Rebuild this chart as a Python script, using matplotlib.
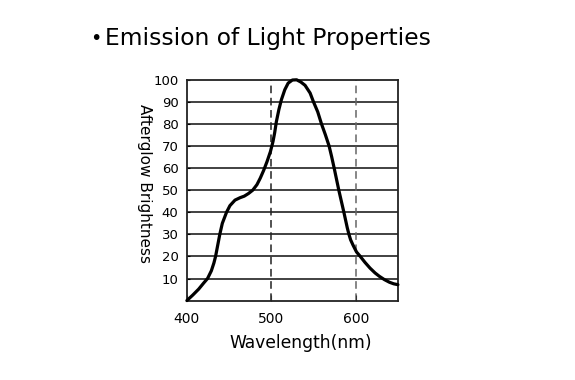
import matplotlib
matplotlib.use("Agg")
import matplotlib.pyplot as plt

plt.rcParams['font.family'] = ['DejaVu Sans']

# emission curve
wavelength = [400, 407, 414, 420, 424.5, 429, 432, 434, 436.5, 439, 442, 447, 451, 457, 463,
              468, 473, 478, 483, 487, 491, 495, 499, 502, 504, 506, 509, 512, 516, 520,
              525, 530, 535, 540, 546, 550, 555, 559.5, 564, 568.5, 571.5, 574.5, 580, 586,
              590, 592, 594, 597, 601, 605, 611, 617, 623, 628, 634, 640, 645, 650]
brightness = [0, 2.5, 5.2, 8, 10, 13.5, 17, 20, 25, 30, 35, 40, 43, 45.5, 46.6,
              47.3, 48.5, 50, 52.5, 55.5, 59, 63, 67.5, 72, 76, 81, 86.5, 91, 95.5, 98.5,
              99.9, 100, 99, 97.5, 94, 90, 85.5, 80, 75.2, 70, 65.2, 60, 50, 40,
              33, 30, 27.5, 25, 22, 20.2, 17.3, 14.7, 12.5, 11, 9.5, 8.3, 7.6, 7.2]

y_grid = [10, 20, 30, 40, 50, 60, 70, 80, 90]
y_ticks = [10, 20, 30, 40, 50, 60, 70, 80, 90, 100]
x_ticks = [400, 500, 600]
dashed_x = [500, 600]
dashed_colors = ['#222222', '#666666']

fig = plt.figure(figsize=(5.75, 3.8), dpi=100)
ax = fig.add_axes([0.325, 0.209, 0.367, 0.581])

for g in y_grid:
    ax.axhline(g, color='#333333', lw=1.3, zorder=1)
for xv, c in zip(dashed_x, dashed_colors):
    ax.axvline(xv, color=c, lw=1.1, ls=(0, (5, 3)), zorder=1)

ax.plot(wavelength, brightness, color='black', lw=2.3, zorder=3,
        clip_on=False, solid_capstyle='round', solid_joinstyle='round')

ax.set_xlim(400, 650)
ax.set_ylim(0, 100)
ax.set_xticks(x_ticks)
ax.set_yticks(y_ticks)
ax.tick_params(axis='x', direction='in', length=4, labelsize=10, pad=8, color='#333333')
ax.tick_params(axis='y', direction='in', length=2, labelsize=9.5, pad=6)
for s in ax.spines.values():
    s.set_linewidth(1.3)
    s.set_color('#222222')

ax.set_xlabel('Wavelength(nm)', fontsize=12.3, va='center')
ax.xaxis.set_label_coords(0.54, -0.19)
ax.set_ylabel('Afterglow Brightness', fontsize=11, rotation=270, va='center')
ax.yaxis.set_label_coords(-0.2, 0.53)

fig.text(0.157, 0.9, '•', fontsize=14, ha='left', va='center')
fig.text(0.182, 0.9, 'Emission of Light Properties', fontsize=16.8, ha='left', va='center')

fig.savefig('out.png', dpi=100)
